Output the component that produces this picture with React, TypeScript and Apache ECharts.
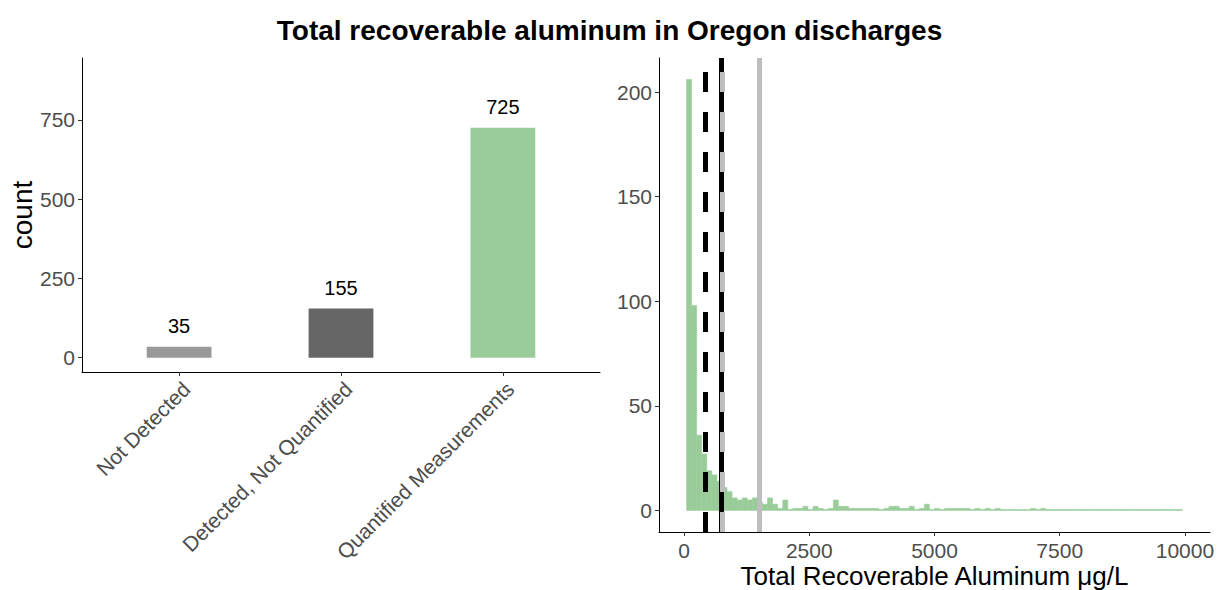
import React, { useEffect, useRef } from "react";
import * as echarts from "echarts";

// ---- data ----
const categories = ["Not Detected", "Detected, Not Quantified", "Quantified Measurements"];
const categoryCounts = [35, 155, 725];
const categoryColors = ["#999999", "#666666", "#99CC99"];

// histogram: 100 bins over 0..10000 (bin k centred at k * binWidth), bins 1..98 shown
const binWidth = 10000 / 99;
const histCounts = [
  206, 98, 36, 27, 19, 17, 14, 11, 9, 6,
  5, 6, 5, 6, 4, 3, 6, 3, 1, 5,
  0, 1, 1, 2, 0, 2, 1, 0, 1, 5,
  2, 2, 1, 1, 1, 1, 1, 1, 0, 1,
  2, 2, 1, 1, 2, 0, 1, 3, 0, 1,
  0, 1, 1, 1, 1, 1, 0, 1, 0, 1,
  0, 1, 0, 0, 0, 0, 0, 0, 1, 0,
  1, 0, 0, 0, 0, 0, 0, 0, 0, 0,
  0, 0, 0, 0, 0, 0, 0, 0, 0, 0,
  0, 0, 0, 0, 0, 0, 0, 0,
];
const refLineValues = [420, 740, 757, 1508];
const leftTicks = [0, 250, 500, 750];
const rightYTicks = [0, 50, 100, 150, 200];
const rightXTicks = [0, 2500, 5000, 7500, 10000];

const refLineStyles = [
  { color: "#000000", type: [20, 20] },
  { color: "#000000", type: "solid" },
  { color: "#BEBEBE", type: [20, 20] },
  { color: "#BEBEBE", type: "solid" },
];

const FONT = "Liberation Sans, Arial, sans-serif";
const TICK_COLOR = "#4D4D4D";
const TICK_SIZE = 21;

export default function App() {
  const ref = useRef<HTMLDivElement>(null);
  useEffect(() => {
    if (!ref.current) return;
    const chart = echarts.init(ref.current, undefined, { renderer: "svg" });
    const histMax = Math.max(...histCounts);
    const histData = histCounts.map((c, i) => [(i + 1) * binWidth, c]);
    const axisLine = { show: true, onZero: false, lineStyle: { color: "#000", width: 1 } };
    const axisTick = { show: true, length: 4, lineStyle: { color: "#333", width: 1 } };
    const labelBase = { fontSize: TICK_SIZE, color: TICK_COLOR, fontFamily: FONT };

    chart.setOption({
      animation: false,
      textStyle: { fontFamily: FONT },
      title: {
        text: "Total recoverable aluminum in Oregon discharges",
        left: "center",
        top: 11,
        textStyle: { fontFamily: FONT, fontSize: 28, fontWeight: "bold", color: "#000" },
      },
      grid: [
        { left: 82, top: 58, width: 518, height: 314, outerBoundsMode: "none", containLabel: false },
        { left: 659, top: 58, width: 551, height: 474, outerBoundsMode: "none", containLabel: false },
      ],
      xAxis: [
        {
          type: "value",
          gridIndex: 0,
          min: 0.4,
          max: 3.6,
          splitLine: { show: false },
          axisLine,
          axisTick: { ...axisTick, customValues: [1, 2, 3] },
          axisLabel: {
            ...labelBase,
            customValues: [1, 2, 3],
            formatter: (v: number) => categories[Math.round(v) - 1] ?? "",
            rotate: 45,
            align: "right",
            verticalAlign: "top",
            margin: 6,
          },
        },
        {
          type: "value",
          gridIndex: 1,
          min: -500,
          max: 10500,
          splitLine: { show: false },
          axisLine,
          axisTick: { ...axisTick, customValues: rightXTicks },
          axisLabel: {
            ...labelBase,
            lineHeight: 21,
            customValues: rightXTicks,
            formatter: (v: number) => String(v),
            margin: 8,
          },
          name: "Total Recoverable Aluminum \u03bcg/L",
          nameLocation: "middle",
          nameGap: 31,
          nameMoveOverlap: false,
          nameTextStyle: { fontSize: 26, lineHeight: 26, color: "#000", fontFamily: FONT },
        },
      ],
      yAxis: [
        {
          type: "value",
          gridIndex: 0,
          min: -45,
          max: 945,
          splitLine: { show: false },
          axisLine,
          axisTick: { ...axisTick, customValues: leftTicks },
          axisLabel: {
            ...labelBase,
            customValues: leftTicks,
            formatter: (v: number) => String(v),
            margin: 7,
          },
          name: "count",
          nameLocation: "middle",
          nameGap: 46,
          nameMoveOverlap: false,
          nameTextStyle: { fontSize: 28, color: "#000", fontFamily: FONT },
        },
        {
          type: "value",
          gridIndex: 1,
          min: -histMax * 0.05,
          max: histMax * 1.05,
          splitLine: { show: false },
          axisLine,
          axisTick: { ...axisTick, customValues: rightYTicks },
          axisLabel: {
            ...labelBase,
            customValues: rightYTicks,
            formatter: (v: number) => String(v),
            margin: 7,
          },
        },
      ],
      series: [
        {
          type: "bar",
          xAxisIndex: 0,
          yAxisIndex: 0,
          barWidth: 64.8,
          data: categoryCounts.map((c, i) => ({
            value: [i + 1, c],
            itemStyle: { color: categoryColors[i] },
          })),
          label: {
            show: true,
            position: "top",
            distance: 11,
            fontSize: 20,
            color: "#000",
            fontFamily: FONT,
            formatter: (p: any) => String(p.value[1]),
          },
        },
        {
          type: "custom",
          xAxisIndex: 1,
          yAxisIndex: 1,
          data: histData,
          renderItem: (params: any, api: any) => {
            const c = api.value(0);
            const n = api.value(1);
            const p0 = api.coord([c - binWidth / 2, n]);
            const p1 = api.coord([c + binWidth / 2, 0]);
            const h = Math.max(p1[1] - p0[1], 1);
            return {
              type: "rect",
              shape: { x: p0[0], y: p1[1] - h, width: p1[0] - p0[0], height: h },
              style: { fill: "#99CC99", stroke: "#99CC99", lineWidth: 0.5 },
            };
          },
        },
        {
          type: "line",
          xAxisIndex: 1,
          yAxisIndex: 1,
          data: [],
          markLine: {
            silent: true,
            symbol: ["none", "none"],
            label: { show: false },
            data: refLineValues.map((v, i) => ({
              xAxis: v,
              lineStyle: { color: refLineStyles[i].color, type: refLineStyles[i].type, width: 5 },
            })),
          },
        },
      ],
    });
    return () => chart.dispose();
  }, []);
  return (
    <div
      ref={ref}
      style={{ position: "absolute", left: 0, top: 0, width: 1219, height: 590, background: "#fff" }}
    />
  );
}
